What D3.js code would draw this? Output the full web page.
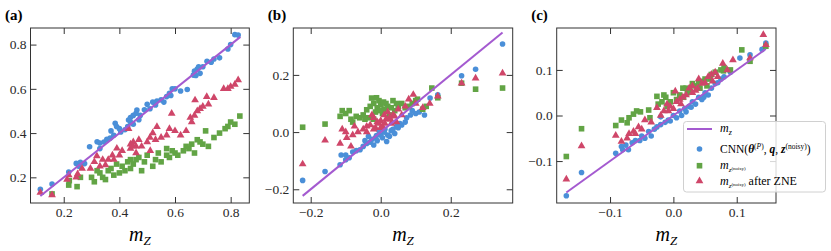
<!DOCTYPE html>
<html>
<head>
<meta charset="utf-8">
<script src="https://cdn.jsdelivr.net/npm/d3@7"></script>
<style>
  body { margin: 0; background: #fff; }
  svg text { font-family: "Liberation Serif", "DejaVu Serif", serif; }
</style>
</head>
<body>
<svg width="831" height="251"></svg>
<script>
// panel (a)
const cnnA = [[0.116,0.146],[0.158,0.17],[0.218,0.224],[0.245,0.263],[0.26,0.268],[0.275,0.262],[0.293,0.338],[0.32,0.361],[0.33,0.355],[0.345,0.36],[0.355,0.372],[0.367,0.378],[0.385,0.444],[0.39,0.43],[0.4,0.42],[0.405,0.405],[0.42,0.415],[0.433,0.459],[0.44,0.47],[0.45,0.48],[0.46,0.49],[0.463,0.504],[0.475,0.48],[0.49,0.505],[0.51,0.51],[0.53,0.527],[0.535,0.545],[0.55,0.55],[0.57,0.565],[0.58,0.58],[0.585,0.57],[0.6,0.6],[0.62,0.59],[0.644,0.597],[0.666,0.662],[0.67,0.68],[0.68,0.69],[0.69,0.67],[0.7,0.7],[0.715,0.725],[0.74,0.735],[0.76,0.74],[0.79,0.78],[0.8,0.8],[0.815,0.845],[0.827,0.843],[0.5,0.53],[0.44,0.45],[0.47,0.46],[0.37,0.41],[0.43,0.43],[0.38,0.39],[0.45,0.44],[0.52,0.54],[0.56,0.54],[0.59,0.6],[0.675,0.66],[0.685,0.7],[0.73,0.72],[0.33,0.33],[0.255,0.25]];
const noisyA = [[0.158,0.125],[0.218,0.165],[0.248,0.158],[0.22,0.185],[0.26,0.2],[0.3,0.2],[0.31,0.18],[0.33,0.22],[0.34,0.2],[0.35,0.19],[0.37,0.24],[0.38,0.21],[0.39,0.26],[0.4,0.22],[0.42,0.23],[0.43,0.27],[0.44,0.24],[0.45,0.26],[0.46,0.28],[0.48,0.23],[0.5,0.3],[0.52,0.25],[0.53,0.28],[0.55,0.27],[0.57,0.33],[0.58,0.29],[0.6,0.31],[0.61,0.3],[0.63,0.32],[0.65,0.33],[0.66,0.35],[0.67,0.31],[0.68,0.37],[0.7,0.35],[0.71,0.41],[0.72,0.34],[0.74,0.38],[0.76,0.4],[0.79,0.43],[0.8,0.45],[0.815,0.44],[0.833,0.477],[0.54,0.31],[0.47,0.29],[0.36,0.23],[0.32,0.23],[0.41,0.25],[0.44,0.28],[0.49,0.27],[0.57,0.3],[0.59,0.32],[0.64,0.34],[0.69,0.36],[0.78,0.42]];
const zneA = [[0.116,0.131],[0.158,0.12],[0.212,0.19],[0.218,0.21],[0.245,0.2],[0.25,0.215],[0.266,0.24],[0.296,0.24],[0.31,0.27],[0.319,0.296],[0.33,0.25],[0.35,0.256],[0.36,0.28],[0.375,0.3],[0.38,0.28],[0.391,0.331],[0.4,0.3],[0.41,0.32],[0.433,0.42],[0.44,0.35],[0.45,0.36],[0.46,0.34],[0.47,0.37],[0.48,0.34],[0.5,0.36],[0.511,0.32],[0.52,0.4],[0.535,0.429],[0.55,0.38],[0.57,0.39],[0.588,0.489],[0.6,0.41],[0.62,0.39],[0.64,0.41],[0.655,0.47],[0.672,0.549],[0.68,0.5],[0.69,0.51],[0.714,0.564],[0.72,0.53],[0.74,0.56],[0.775,0.6],[0.79,0.6],[0.8,0.61],[0.815,0.62],[0.827,0.64],[0.58,0.42],[0.66,0.45],[0.44,0.33],[0.45,0.34],[0.46,0.31],[0.51,0.38],[0.53,0.37],[0.67,0.48],[0.7,0.52],[0.34,0.28]];
const lineA = [0.116, 0.835];

// panel (b)
const cnnB = [[-0.223,-0.169],[-0.159,-0.138],[-0.116,-0.114],[-0.113,-0.08],[-0.1,-0.08],[-0.1,-0.097],[-0.09,-0.09],[-0.08,-0.07],[-0.07,-0.065],[-0.059,-0.062],[-0.05,-0.05],[-0.045,-0.03],[-0.04,-0.04],[-0.03,-0.035],[-0.025,-0.025],[-0.02,-0.045],[-0.015,-0.02],[-0.01,-0.03],[0.0,-0.01],[0.005,-0.02],[0.01,0.0],[0.017,-0.033],[0.02,-0.01],[0.03,0.005],[0.035,0.01],[0.04,-0.005],[0.045,0.02],[0.05,0.015],[0.06,0.025],[0.07,0.035],[0.074,0.05],[0.085,0.06],[0.1,0.065],[0.11,0.07],[0.125,0.06],[0.141,0.119],[0.163,0.13],[0.231,0.197],[0.271,0.22],[0.348,0.308],[-0.005,0.005],[0.025,-0.015],[-0.035,-0.015],[-0.012,-0.012],[0.012,0.01],[0.055,0.03],[0.09,0.075]];
const noisyB = [[-0.223,0.017],[-0.159,0.028],[-0.116,0.055],[-0.11,0.075],[-0.1,0.065],[-0.09,0.075],[-0.085,0.045],[-0.08,0.035],[-0.07,0.055],[-0.06,0.05],[-0.05,0.06],[-0.04,0.078],[-0.035,0.05],[-0.03,0.09],[-0.026,0.119],[-0.02,0.1],[-0.015,0.07],[-0.01,0.085],[-0.005,0.11],[0.0,0.095],[0.005,0.065],[0.01,0.08],[0.015,0.1],[0.02,0.09],[0.025,0.06],[0.03,0.085],[0.04,0.075],[0.05,0.09],[0.06,0.1],[0.07,0.085],[0.08,0.09],[0.09,0.1],[0.1,0.11],[0.105,0.115],[0.12,0.08],[0.13,0.09],[0.146,0.154],[0.163,0.12],[0.231,0.171],[0.271,0.15],[0.348,0.154],[-0.02,0.045],[0.035,0.11],[-0.012,0.12],[0.0,0.075],[0.008,0.105],[0.045,0.1],[-0.045,0.045]];
const zneB = [[-0.223,-0.112],[-0.159,-0.029],[-0.116,-0.04],[-0.11,0.01],[-0.1,0.0],[-0.097,-0.02],[-0.085,-0.05],[-0.08,-0.01],[-0.075,0.02],[-0.065,0.0],[-0.05,0.01],[-0.04,0.02],[-0.03,0.025],[-0.02,0.05],[-0.015,0.015],[-0.01,0.035],[0.0,0.04],[0.005,0.02],[0.01,0.06],[0.015,0.045],[0.02,0.07],[0.025,0.05],[0.03,0.03],[0.035,0.06],[0.04,0.055],[0.05,0.08],[0.06,0.06],[0.07,0.09],[0.08,0.115],[0.093,0.131],[0.1,0.1],[0.12,0.085],[0.14,0.1],[0.163,0.125],[0.231,0.171],[0.271,0.188],[0.348,0.206],[-0.04,0.0],[0.0,0.015],[0.045,0.035],[-0.025,0.06],[-0.005,0.03],[0.012,0.03],[0.028,0.045],[-0.02,0.01]];
const lineB = [-0.223, 0.348];

// panel (c)
const cnnC = [[-0.169,-0.176],[-0.145,-0.125],[-0.091,-0.083],[-0.082,-0.068],[-0.08,-0.075],[-0.071,-0.075],[-0.065,-0.06],[-0.06,-0.055],[-0.053,-0.055],[-0.05,-0.045],[-0.045,-0.05],[-0.039,-0.035],[-0.035,-0.045],[-0.03,-0.03],[-0.026,-0.025],[-0.02,-0.02],[-0.013,-0.015],[-0.008,-0.01],[0.0,0.0],[0.005,-0.005],[0.01,0.01],[0.013,0.0],[0.018,0.015],[0.025,0.02],[0.03,0.03],[0.035,0.025],[0.04,0.04],[0.045,0.035],[0.05,0.05],[0.055,0.045],[0.06,0.06],[0.066,0.07],[0.075,0.08],[0.08,0.085],[0.09,0.095],[0.105,0.126],[0.121,0.133],[0.146,0.159],[0.14,0.145],[-0.02,-0.003],[0.02,0.008],[-0.075,-0.065],[-0.005,-0.012],[0.028,0.018],[0.048,0.04],[0.07,0.072]];
const noisyC = [[-0.169,-0.09],[-0.145,-0.029],[-0.091,-0.022],[-0.082,-0.01],[-0.073,-0.016],[-0.07,-0.005],[-0.063,0.003],[-0.058,0.01],[-0.052,0.008],[-0.039,0.012],[-0.037,-0.005],[-0.026,0.042],[-0.024,0.025],[-0.018,0.03],[-0.012,0.04],[-0.005,0.03],[0.0,0.05],[0.005,0.035],[0.01,0.045],[0.016,0.04],[0.02,0.06],[0.026,0.055],[0.03,0.07],[0.035,0.065],[0.04,0.07],[0.045,0.075],[0.05,0.08],[0.053,0.065],[0.06,0.09],[0.066,0.095],[0.075,0.1],[0.079,0.098],[0.08,0.105],[0.09,0.1],[0.108,0.144],[0.121,0.119],[0.146,0.152],[-0.01,0.02],[0.015,0.06],[-0.015,0.045],[0.022,0.05],[0.042,0.06],[0.058,0.08]];
const zneC = [[-0.169,-0.14],[-0.145,-0.067],[-0.091,-0.044],[-0.082,-0.057],[-0.073,-0.05],[-0.07,-0.04],[-0.063,-0.035],[-0.055,-0.025],[-0.05,-0.03],[-0.045,-0.01],[-0.035,-0.015],[-0.026,0.017],[-0.02,0.0],[-0.015,0.01],[-0.01,0.025],[-0.005,0.02],[0.003,0.053],[0.005,0.03],[0.01,0.035],[0.015,0.04],[0.02,0.045],[0.025,0.06],[0.03,0.065],[0.035,0.055],[0.04,0.08],[0.045,0.07],[0.05,0.072],[0.055,0.085],[0.06,0.09],[0.066,0.095],[0.07,0.085],[0.078,0.114],[0.085,0.1],[0.094,0.122],[0.121,0.126],[0.142,0.177],[0.146,0.155],[-0.06,-0.04],[0.0,0.015],[0.03,0.05],[-0.008,0.01],[0.012,0.025],[0.038,0.06],[0.062,0.075]];
const lineC = [-0.169, 0.146];

const ticksA = [0.2, 0.4, 0.6, 0.8];
const ticksB = [-0.2, 0.0, 0.2];
const ticksC = [-0.1, 0.0, 0.1];

const colors = { line: '#a45ad0', cnn: '#4a8fd8', noisy: '#62a445', zne: '#cf4669' };
const serif = '"Liberation Serif", "DejaVu Serif", serif';

const svg = d3.select('svg');
const plotTop = 28, plotBottom = 203;
const fmt = d3.format('.1f');

const panels = [
  { label: '(a)', left: 30.5, right: 249.3, xd: [0.0806, 0.867], yd: [0.084, 0.875], xt: ticksA, yt: ticksA, cnn: cnnA, noisy: noisyA, zne: zneA, line: lineA },
  { label: '(b)', left: 293.3, right: 512.7, xd: [-0.2497, 0.377], yd: [-0.248, 0.364], xt: ticksB, yt: ticksB, cnn: cnnB, noisy: noisyB, zne: zneB, line: lineB },
  { label: '(c)', left: 556.7, right: 776, xd: [-0.1842, 0.162], yd: [-0.192, 0.192], xt: ticksC, yt: ticksC, cnn: cnnC, noisy: noisyC, zne: zneC, line: lineC }
];

panels.forEach(p => {
  const x = d3.scaleLinear().domain(p.xd).range([p.left, p.right]);
  const y = d3.scaleLinear().domain(p.yd).range([plotBottom, plotTop]);
  const g = svg.append('g');

  const axes = [
    [d3.axisBottom(x).tickValues(p.xt).tickFormat(fmt), `translate(0,${plotBottom})`],
    [d3.axisTop(x).tickValues(p.xt).tickFormat(''), `translate(0,${plotTop})`],
    [d3.axisLeft(y).tickValues(p.yt).tickFormat(fmt), `translate(${p.left},0)`],
    [d3.axisRight(y).tickValues(p.yt).tickFormat(''), `translate(${p.right},0)`]
  ];
  axes.forEach(([ax, tr]) => {
    const a = g.append('g').attr('transform', tr)
      .call(ax.tickSizeInner(-6).tickSizeOuter(0).tickPadding(4))
      .attr('font-family', serif);
    a.select('.domain').remove();
    a.selectAll('line').attr('stroke', '#333').attr('stroke-width', 1);
    a.selectAll('text').attr('fill', '#2a2a2a').style('font-size', '13.5px')
      .style('font-family', serif);
  });

  g.append('rect')
    .attr('x', p.left).attr('y', plotTop)
    .attr('width', p.right - p.left).attr('height', plotBottom - plotTop)
    .attr('fill', 'none').attr('stroke', '#333').attr('stroke-width', 1);

  const marks = g.append('g');
  marks.selectAll('.cnn').data(p.cnn).join('circle')
    .attr('cx', d => x(d[0])).attr('cy', d => y(d[1])).attr('r', 2.8)
    .attr('fill', colors.cnn);
  marks.selectAll('.noisy').data(p.noisy).join('rect')
    .attr('x', d => x(d[0]) - 2.8).attr('y', d => y(d[1]) - 2.8)
    .attr('width', 5.6).attr('height', 5.6).attr('fill', colors.noisy);
  const tri = d3.symbol().type(d3.symbolTriangle).size(26);
  marks.selectAll('.zne').data(p.zne).join('path')
    .attr('d', tri).attr('transform', d => `translate(${x(d[0])},${y(d[1])})`)
    .attr('fill', colors.zne);

  marks.append('line')
    .attr('x1', x(p.line[0])).attr('y1', y(p.line[0]))
    .attr('x2', x(p.line[1])).attr('y2', y(p.line[1]))
    .attr('stroke', colors.line).attr('stroke-width', 2);

  g.append('text').attr('x', p.left - 25.5).attr('y', 20)
    .style('font-family', serif)
    .style('font-size', '15px').style('font-weight', 'bold').text(p.label);

  const xl = g.append('text').attr('x', (p.left + p.right) / 2).attr('y', 241)
    .attr('text-anchor', 'middle').style('font-family', serif)
    .style('font-size', '20px').style('font-style', 'italic');
  xl.append('tspan').text('m');
  xl.append('tspan').attr('dy', 4).style('font-size', '13px').text('Z');
});

// legend in panel (c)
const lg = svg.append('g');
lg.append('rect').attr('x', 683.5).attr('y', 121.5).attr('width', 142).attr('height', 70.5)
  .attr('rx', 3).attr('fill', 'white').attr('fill-opacity', 0.8)
  .attr('stroke', '#d0d0d0').attr('stroke-width', 1);
lg.append('line').attr('x1', 687).attr('x2', 712).attr('y1', 129).attr('y2', 129)
  .attr('stroke', colors.line).attr('stroke-width', 2);
lg.append('circle').attr('cx', 699.5).attr('cy', 149).attr('r', 2.8).attr('fill', colors.cnn);
lg.append('rect').attr('x', 696.7).attr('y', 162.9).attr('width', 5.6).attr('height', 5.6).attr('fill', colors.noisy);
lg.append('path').attr('d', d3.symbol().type(d3.symbolTriangle).size(26)())
  .attr('transform', 'translate(699.5,181)').attr('fill', colors.zne);

const t1 = lg.append('text').attr('x', 720).attr('y', 132).style('font-size', '12px');
t1.append('tspan').style('font-style', 'italic').text('m');
t1.append('tspan').attr('dy', 2.5).style('font-size', '8px').style('font-style', 'italic').text('z');

const t2 = lg.append('text').attr('x', 720).attr('y', 153).style('font-size', '11.5px');
t2.append('tspan').text('CNN(');
t2.append('tspan').style('font-weight', 'bold').style('font-style', 'italic').text('θ');
t2.append('tspan').attr('dy', -4).style('font-size', '7.5px').text('(');
t2.append('tspan').style('font-size', '7.5px').style('font-style', 'italic').text('P');
t2.append('tspan').style('font-size', '7.5px').text(')');
t2.append('tspan').attr('dy', 4).text(', ');
t2.append('tspan').style('font-weight', 'bold').style('font-style', 'italic').text('q');
t2.append('tspan').text(', ');
t2.append('tspan').style('font-weight', 'bold').style('font-style', 'italic').text('z');
t2.append('tspan').attr('dy', -4).style('font-size', '7.5px').text('(noisy)');
t2.append('tspan').attr('dy', 4).text(')');

[[169, ''], [185, ' after ZNE']].forEach(([yy, extra]) => {
  const t = lg.append('text').attr('x', 720).attr('y', yy).style('font-size', '12px');
  t.append('tspan').style('font-style', 'italic').text('m');
  t.append('tspan').attr('dy', 2.5).style('font-size', '7px').style('font-style', 'italic').text('z');
  t.append('tspan').attr('dy', -1.5).style('font-size', '5px').text('(noisy)');
  t.append('tspan').attr('dy', -1).text(extra);
});
</script>
</body>
</html>
